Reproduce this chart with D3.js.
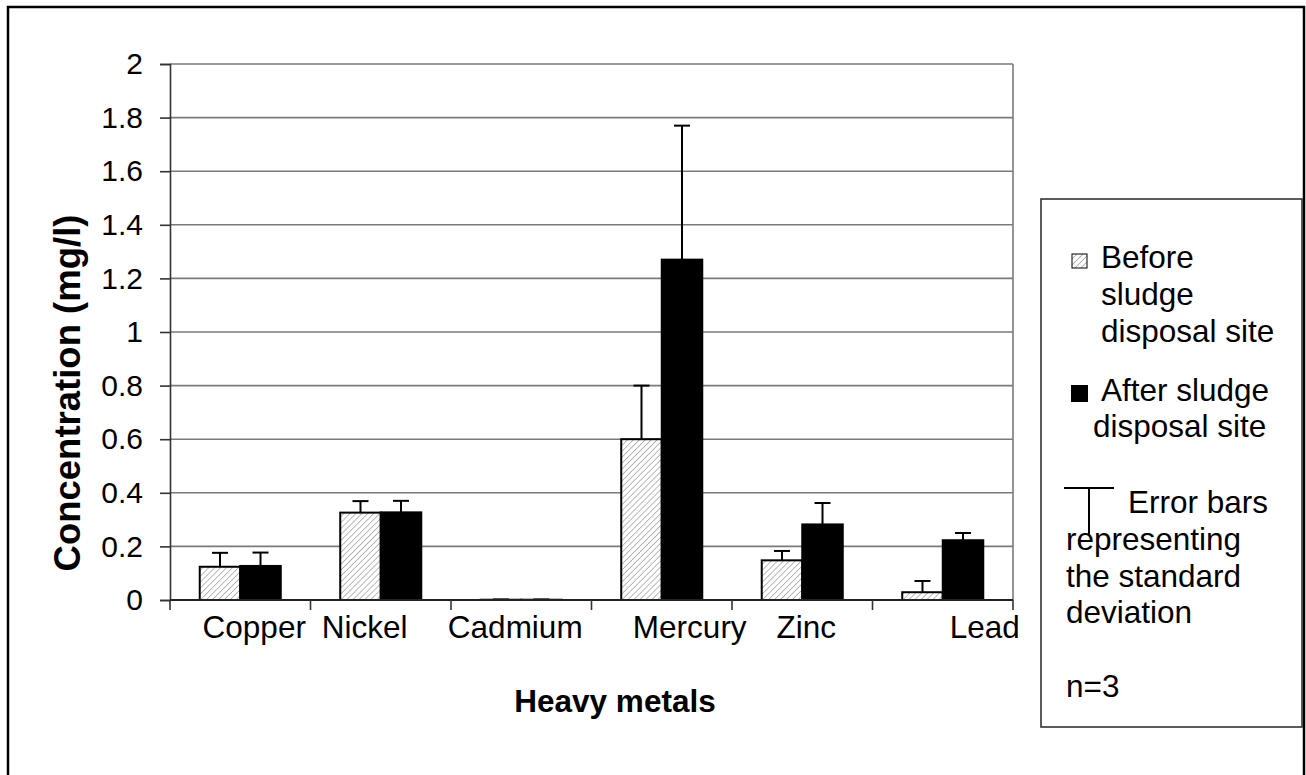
<!DOCTYPE html>
<html>
<head>
<meta charset="utf-8">
<script src="https://cdn.jsdelivr.net/npm/d3@7"></script>
<style>
  body { margin: 0; background: #fff; }
  svg { display: block; font-family: "Liberation Sans", Arial, sans-serif; }
</style>
</head>
<body>
<svg id="chart" width="1306" height="775"></svg>
<script>
// ---- data ----
const categories = ["Copper", "Nickel", "Cadmium", "Mercury", "Zinc", "Lead"];
const seriesNames = ["Before sludge disposal site", "After sludge disposal site"];
const beforeValues = [0.124, 0.326, 0.001, 0.600, 0.148, 0.029];
const beforeSD     = [0.052, 0.043, 0.001, 0.200, 0.035, 0.042];
const afterValues  = [0.127, 0.327, 0.001, 1.270, 0.282, 0.223];
const afterSD      = [0.050, 0.043, 0.001, 0.500, 0.080, 0.027];
const yTickValues  = [0, 0.2, 0.4, 0.6, 0.8, 1, 1.2, 1.4, 1.6, 1.8, 2];
const yTickLabels  = ["0", "0.2", "0.4", "0.6", "0.8", "1", "1.2", "1.4", "1.6", "1.8", "2"];
const xTitle = "Heavy metals";
const yTitle = "Concentration (mg/l)";
const legendNote = ["Error bars", "representing", "the standard", "deviation", "", "n=3"];

// ---- layout ----
const svg = d3.select("#chart");
const plot = { left: 170, right: 1013, top: 64, bottom: 600 };
const FONT = 30;
const LFONT = 31.5;

const x0 = d3.scaleBand().domain(categories).range([plot.left, plot.right]).paddingInner(0).paddingOuter(0);
const x1 = d3.scaleBand().domain([0, 1]).range([0, x0.bandwidth()]).paddingInner(0).paddingOuter(0.734);
const y = d3.scaleLinear().domain([0, 2]).range([plot.bottom, plot.top]);

// outer frame
svg.append("path")
  .attr("d", "M8,790 L8,7 L1304,7 L1304,790")
  .attr("fill", "none").attr("stroke", "#000").attr("stroke-width", 2.5);

// hatch pattern
const defs = svg.append("defs");
const pat = defs.append("pattern").attr("id", "hatch")
  .attr("patternUnits", "userSpaceOnUse").attr("width", 4.2).attr("height", 4.2)
  .attr("patternTransform", "rotate(45)");
pat.append("rect").attr("width", 4.2).attr("height", 4.2).attr("fill", "#fff");
pat.append("line").attr("x1", 0).attr("y1", 0).attr("x2", 0).attr("y2", 4.2)
  .attr("stroke", "#a8a8a8").attr("stroke-width", 1.6);

// gridlines
svg.append("g").selectAll("line").data(yTickValues.slice(1)).join("line")
  .attr("x1", plot.left).attr("x2", plot.right)
  .attr("y1", d => y(d)).attr("y2", d => y(d))
  .attr("stroke", "#7a7a7a").attr("stroke-width", 1.6);
svg.append("line").attr("x1", plot.right).attr("x2", plot.right)
  .attr("y1", plot.top).attr("y2", plot.bottom)
  .attr("stroke", "#7a7a7a").attr("stroke-width", 1.6);

// y axis
const yAxis = d3.axisLeft(y).tickValues(yTickValues)
  .tickFormat((d, i) => yTickLabels[i]).tickSize(10).tickPadding(17);
const gy = svg.append("g").attr("transform", `translate(${plot.left},0)`).call(yAxis);
gy.select(".domain").attr("stroke", "#333").attr("stroke-width", 1.6);
gy.selectAll(".tick line").attr("stroke", "#333").attr("stroke-width", 1.6);
gy.selectAll(".tick text").attr("font-size", FONT).attr("font-family", "Liberation Sans, Arial, sans-serif").attr("fill", "#000");

// bars
const groups = svg.append("g").selectAll("g").data(categories).join("g")
  .attr("transform", d => `translate(${x0(d)},0)`);
const rows = (c, i) => [
  { s: 0, v: beforeValues[i], sd: beforeSD[i] },
  { s: 1, v: afterValues[i], sd: afterSD[i] }
];
groups.each(function(c, i) {
  const g = d3.select(this);
  const data = rows(c, i);
  g.selectAll("rect").data(data).join("rect")
    .attr("x", d => x1(d.s)).attr("width", x1.bandwidth())
    .attr("y", d => y(d.v)).attr("height", d => y(0) - y(d.v))
    .attr("fill", d => d.s === 0 ? "url(#hatch)" : "#000")
    .attr("stroke", "#000").attr("stroke-width", 2);
  g.selectAll("line.err").data(data).join("line").attr("class", "err")
    .attr("x1", d => x1(d.s) + x1.bandwidth() / 2).attr("x2", d => x1(d.s) + x1.bandwidth() / 2)
    .attr("y1", d => y(d.v)).attr("y2", d => y(d.v + d.sd))
    .attr("stroke", "#000").attr("stroke-width", 2);
  g.selectAll("line.cap").data(data).join("line").attr("class", "cap")
    .attr("x1", d => x1(d.s) + x1.bandwidth() / 2 - 8).attr("x2", d => x1(d.s) + x1.bandwidth() / 2 + 8)
    .attr("y1", d => y(d.v + d.sd)).attr("y2", d => y(d.v + d.sd))
    .attr("stroke", "#000").attr("stroke-width", 2);
});

// x axis line + ticks at category boundaries
svg.append("line").attr("x1", plot.left).attr("x2", plot.right)
  .attr("y1", plot.bottom).attr("y2", plot.bottom)
  .attr("stroke", "#222").attr("stroke-width", 1.8);
const boundaries = categories.map(c => x0(c)).concat([plot.right]);
svg.append("g").selectAll("line").data(boundaries).join("line")
  .attr("x1", d => d).attr("x2", d => d)
  .attr("y1", plot.bottom).attr("y2", plot.bottom + 10)
  .attr("stroke", "#333").attr("stroke-width", 1.6);

// x labels (offset from band centre as in the original)
const labelShift = [14, -16, -6, 28, 4, 42];
svg.append("g").selectAll("text").data(categories).join("text")
  .attr("x", (d, i) => x0(d) + x0.bandwidth() / 2 + labelShift[i])
  .attr("y", 638)
  .attr("text-anchor", "middle").attr("font-size", LFONT).attr("fill", "#000")
  .text(d => d);

// axis titles
svg.append("text").attr("x", 615).attr("y", 712).attr("text-anchor", "middle")
  .attr("font-size", 31.5).attr("font-weight", "bold").text(xTitle);
svg.append("text").attr("transform", "translate(80,393) rotate(-90)").attr("text-anchor", "middle")
  .attr("font-size", 36.5).attr("font-weight", "bold").text(yTitle);

// legend
const lg = svg.append("g");
lg.append("rect").attr("x", 1041).attr("y", 199).attr("width", 261).attr("height", 528)
  .attr("fill", "#fff").attr("stroke", "#333").attr("stroke-width", 1.6);
lg.append("rect").attr("x", 1072).attr("y", 254).attr("width", 15).attr("height", 14)
  .attr("fill", "url(#hatch)").attr("stroke", "#000").attr("stroke-width", 1);
lg.append("rect").attr("x", 1071).attr("y", 385).attr("width", 17).attr("height", 17)
  .attr("fill", "#000");
const beforeLines = ["Before", "sludge", "disposal site"];
lg.append("g").selectAll("text").data(beforeLines).join("text")
  .attr("x", 1101).attr("y", (d, i) => 268 + i * 37)
  .attr("font-size", LFONT).text(d => d);
const afterLines = ["After sludge", "disposal site"];
lg.append("g").selectAll("text").data(afterLines).join("text")
  .attr("x", (d, i) => i === 0 ? 1101 : 1093).attr("y", (d, i) => 401 + i * 36)
  .attr("font-size", LFONT).text(d => d);
// error bar symbol
lg.append("line").attr("x1", 1064).attr("x2", 1114).attr("y1", 488).attr("y2", 488)
  .attr("stroke", "#000").attr("stroke-width", 2);
lg.append("line").attr("x1", 1089).attr("x2", 1089).attr("y1", 488).attr("y2", 535)
  .attr("stroke", "#000").attr("stroke-width", 2);
lg.append("g").selectAll("text").data(legendNote).join("text")
  .attr("x", (d, i) => i === 0 ? 1128 : 1066).attr("y", (d, i) => 513 + i * 36.8)
  .attr("font-size", LFONT).text(d => d);
</script>
</body>
</html>
